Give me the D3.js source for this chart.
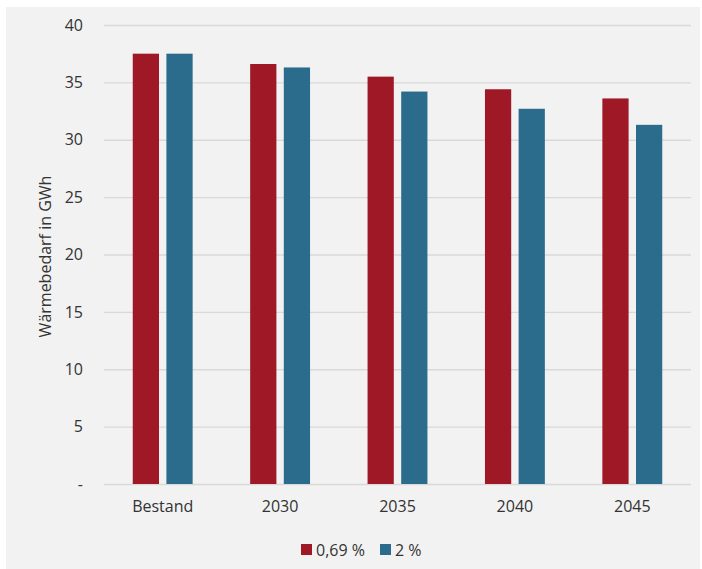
<!DOCTYPE html>
<html>
<head>
<meta charset="utf-8">
<script src="https://cdn.jsdelivr.net/npm/d3@7"></script>
<style>
  body { margin: 0; background: #fff; }
  svg text { font-family: "Open Sans", sans-serif; }
</style>
</head>
<body>
<div id="chart"></div>
<script>
// Data
const categories = ["Bestand", "2030", "2035", "2040", "2045"];
const seriesNames = ["0,69 %", "2 %"];
const low = [37.5, 36.6, 35.5, 34.4, 33.6];
const high = [37.5, 36.3, 34.2, 32.7, 31.3];
const yTicks = [0, 5, 10, 15, 20, 25, 30, 35, 40];
const colors = ["#9e1826", "#2b6b8b"];

const width = 702;
const height = 569;
const margin = { top: 25, right: 11, bottom: 85, left: 104 };

const svg = d3.select("#chart")
    .append("svg")
    .attr("width", width)
    .attr("height", height);

// panel background
svg.append("rect")
    .attr("x", 6)
    .attr("y", 7)
    .attr("width", 694)
    .attr("height", 562)
    .attr("fill", "#f2f2f2");

const x = d3.scaleBand()
    .domain(categories)
    .range([margin.left, width - margin.right])
    .paddingInner(0.49)
    .paddingOuter(0.245);

const xSub = d3.scaleBand()
    .domain(seriesNames)
    .range([0, x.bandwidth()])
    .paddingInner(0.22);

const y = d3.scaleLinear()
    .domain([0, 40])
    .range([height - margin.bottom, margin.top]);

// gridlines + y labels
const yAxis = svg.append("g")
    .attr("transform", `translate(${margin.left},0)`)
    .call(d3.axisLeft(y)
        .tickValues(yTicks)
        .tickSize(-(width - margin.right - margin.left))
        .tickPadding(21)
        .tickFormat(d => d === 0 ? "-" : d));
yAxis.select(".domain").remove();
yAxis.selectAll(".tick line").attr("stroke", "#d9d9d9").attr("stroke-width", 1.3);
yAxis.selectAll(".tick text")
    .attr("fill", "#333")
    .style("font-size", "16px");

// bars
const groups = svg.append("g")
    .selectAll("g")
    .data(categories)
    .join("g")
    .attr("transform", d => `translate(${x(d)},0)`);

groups.selectAll("rect")
    .data((d, i) => [low[i], high[i]].map((v, j) => ({ key: seriesNames[j], value: v, j })))
    .join("rect")
    .attr("x", d => xSub(d.key))
    .attr("y", d => y(d.value))
    .attr("width", xSub.bandwidth())
    .attr("height", d => y(0) - y(d.value))
    .attr("fill", d => colors[d.j]);

// x labels
const xAxis = svg.append("g")
    .attr("transform", `translate(0,${height - margin.bottom})`)
    .call(d3.axisBottom(x).tickSize(0).tickPadding(17));
xAxis.select(".domain").remove();
xAxis.selectAll(".tick text")
    .attr("fill", "#333")
    .style("font-size", "16px");

// y-axis title
svg.append("text")
    .attr("transform", `translate(51,${y(20) + 2}) rotate(-90)`)
    .attr("text-anchor", "middle")
    .attr("fill", "#333")
    .style("font-size", "16px")
    .text("Wärmebedarf in GWh");

// legend
const legendX = [301, 380];
const legend = svg.append("g")
    .selectAll("g")
    .data(seriesNames)
    .join("g")
    .attr("transform", (d, i) => `translate(${legendX[i]},544)`);

legend.append("rect")
    .attr("width", 11)
    .attr("height", 11)
    .attr("fill", (d, i) => colors[i]);

legend.append("text")
    .attr("x", 15)
    .attr("y", 11.5)
    .attr("fill", "#333")
    .style("font-size", "16px")
    .text(d => d);
</script>
</body>
</html>
